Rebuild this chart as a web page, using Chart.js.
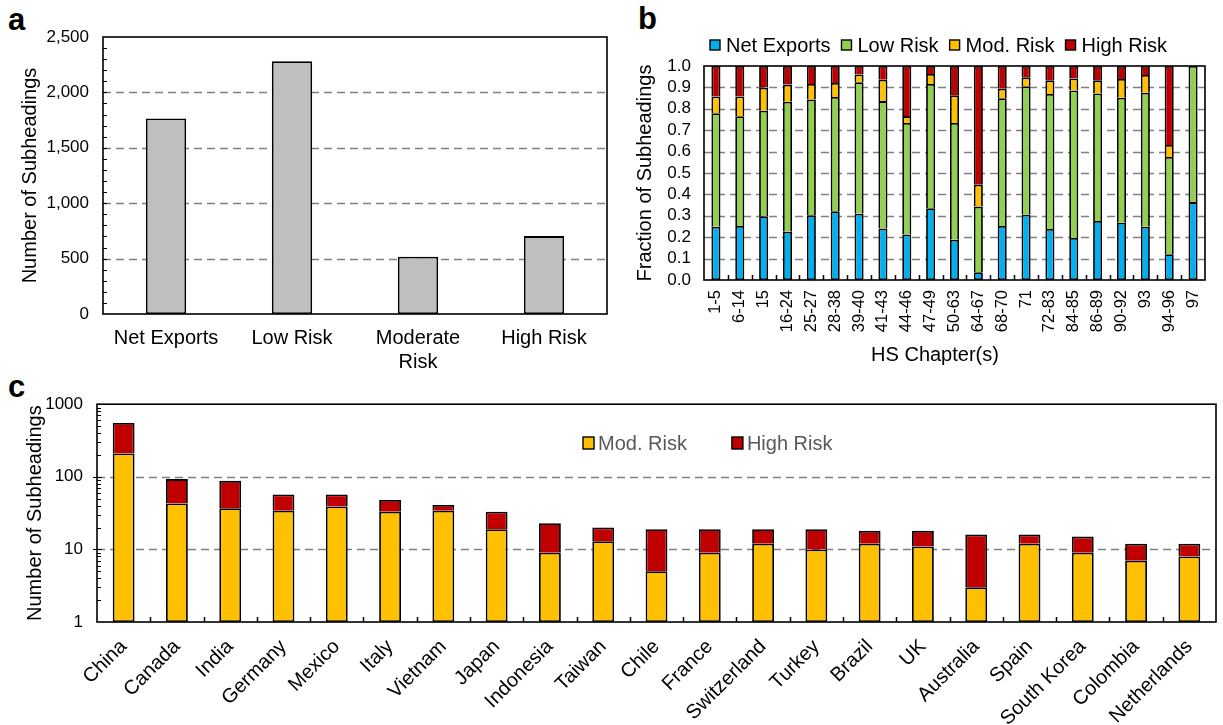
<!DOCTYPE html>
<html><head><meta charset="utf-8">
<script src="https://cdn.jsdelivr.net/npm/chart.js@4.4.1/dist/chart.umd.min.js"></script>
<style>
html,body{margin:0;padding:0;background:#fff}
body{width:1223px;height:725px;overflow:hidden;position:relative;font-family:"Liberation Sans",Arial,sans-serif}
canvas{position:absolute;display:block}
.lbl{position:absolute;font-weight:bold;font-size:31px;line-height:1;color:#000;font-family:"Liberation Sans",Arial,sans-serif}
</style></head><body>
<div class="lbl" style="left:8px;top:4px">a</div>
<div class="lbl" style="left:638px;top:3px">b</div>
<div class="lbl" style="left:8px;top:371px">c</div>
<canvas id="ca" width="620" height="385" style="left:0;top:0"></canvas>
<canvas id="cb" width="603" height="385" style="left:620px;top:0"></canvas>
<canvas id="cc" width="1223" height="345" style="left:0;top:380px"></canvas>
<script>
// ---------- Panel a data ----------
const aCategories = ['Net Exports', 'Low Risk', ['Moderate', 'Risk'], 'High Risk'];
const aValues = [1764, 2281, 517, 703];
const aTicks = [0, 500, 1000, 1500, 2000, 2500];

// ---------- Panel b data (fractions per segment) ----------
const bChapters = ['1-5','6-14','15','16-24','25-27','28-38','39-40','41-43','44-46','47-49','50-63','64-67','68-70','71','72-83','84-85','86-89','90-92','93','94-96','97'];
const bNetExports = [0.249,0.252,0.298,0.226,0.302,0.321,0.310,0.241,0.213,0.335,0.188,0.036,0.252,0.305,0.238,0.196,0.276,0.268,0.249,0.120,0.364];
const bLowRisk    = [0.530,0.513,0.493,0.607,0.542,0.534,0.614,0.595,0.521,0.581,0.546,0.307,0.597,0.600,0.631,0.690,0.596,0.584,0.626,0.455,0.636];
const bModRisk    = [0.079,0.093,0.108,0.080,0.072,0.066,0.036,0.100,0.032,0.047,0.129,0.102,0.045,0.042,0.064,0.056,0.061,0.087,0.083,0.056,0.000];
const bHighRisk   = [0.142,0.142,0.101,0.087,0.084,0.079,0.040,0.064,0.234,0.037,0.137,0.555,0.106,0.053,0.067,0.058,0.067,0.061,0.042,0.369,0.000];
const bTicks = [0,0.1,0.2,0.3,0.4,0.5,0.6,0.7,0.8,0.9,1.0];

// ---------- Panel c data ----------
const cCountries = ['China','Canada','India','Germany','Mexico','Italy','Vietnam','Japan','Indonesia','Taiwan','Chile','France','Switzerland','Turkey','Brazil','UK','Australia','Spain','South Korea','Colombia','Netherlands'];
const cModRisk  = [210,43,37,34,39,33,34,19,9,13,5,9,12,10,12,11,3,12,9,7,8];
const cHighRisk = [340,50,51,23,18,15,7,14,14,7,14,10,7,9,6,7,13,4,6,5,4];
const cTicks = [1,10,100,1000];

// ---------- styling ----------
const FONT = '"Liberation Sans", Arial, sans-serif';
Chart.defaults.font.family = FONT;
Chart.defaults.color = '#000';
Chart.defaults.animation = false;
const C_BLUE = '#00b0f0', C_GREEN = '#92d050', C_YEL = '#ffc000', C_RED = '#c00000', C_GRAY = '#bfbfbf';

function deco(cfg) {
  return {
    id: 'deco',
    beforeDatasetsDraw(chart) {
      const {ctx, chartArea: ca} = chart;
      const ys = chart.scales.y;
      ctx.save();
      ctx.strokeStyle = '#808080'; ctx.lineWidth = 1.4; ctx.setLineDash([8, 5]);
      cfg.grid.forEach(v => {
        const py = Math.round(ys.getPixelForValue(v)) + 0.5;
        ctx.beginPath(); ctx.moveTo(ca.left, py); ctx.lineTo(ca.right, py); ctx.stroke();
      });
      ctx.restore();
    },
    afterDatasetsDraw(chart) {
      const {ctx, chartArea: ca} = chart;
      const xs = chart.scales.x, ys = chart.scales.y;
      ctx.save();
      ctx.setLineDash([]);
      ctx.strokeStyle = '#000';
      ctx.lineWidth = 1;
      (cfg.yMinor || []).forEach(v => {
        const py = Math.round(ys.getPixelForValue(v)) + 0.5;
        ctx.beginPath(); ctx.moveTo(ca.left, py); ctx.lineTo(ca.left + 4, py); ctx.stroke();
      });
      (cfg.yMajor || []).forEach(v => {
        const py = Math.round(ys.getPixelForValue(v)) + 0.5;
        ctx.beginPath(); ctx.moveTo(ca.left - 4, py); ctx.lineTo(ca.left + 5, py); ctx.stroke();
      });
      if (cfg.xTicks) {
        const n = chart.data.labels.length;
        ctx.lineWidth = 1.5;
        for (let i = 1; i < n; i++) {
          const px = Math.round((xs.getPixelForValue(i - 1) + xs.getPixelForValue(i)) / 2) + 0.5;
          ctx.beginPath(); ctx.moveTo(px, ca.bottom); ctx.lineTo(px, ca.bottom - 5); ctx.stroke();
        }
      }
      ctx.lineWidth = 1.6;
      ctx.strokeRect(ca.left, ca.top, ca.right - ca.left, ca.bottom - ca.top);
      if (cfg.legend) {
        const L = cfg.legend;
        ctx.font = L.size + 'px ' + FONT;
        ctx.textBaseline = 'middle';
        ctx.textAlign = 'left';
        let x = L.x;
        chart.data.datasets.forEach(ds => {
          ctx.fillStyle = ds.backgroundColor;
          ctx.fillRect(x, L.y - L.bh / 2, L.bw, L.bh);
          ctx.lineWidth = 1.4; ctx.strokeStyle = '#000';
          ctx.strokeRect(x, L.y - L.bh / 2, L.bw, L.bh);
          ctx.fillStyle = L.color;
          const tx = x + L.bw + L.gapText;
          ctx.fillText(ds.label, tx, L.y + 1);
          x = tx + ctx.measureText(ds.label).width + L.gapItem;
        });
      }
      if (cfg.xTitle) {
        const T = cfg.xTitle;
        ctx.font = T.size + 'px ' + FONT;
        ctx.fillStyle = '#000';
        ctx.textAlign = 'center'; ctx.textBaseline = 'middle';
        ctx.fillText(T.text, T.x, T.y);
      }
      ctx.restore();
    }
  };
}

const barBase = { borderColor: '#000', borderWidth: 1.8, borderSkipped: false, categoryPercentage: 1 };
const barUpper = { borderColor: '#000', borderWidth: 1.8, borderSkipped: 'bottom', categoryPercentage: 1 };

// ---------- Chart a ----------
new Chart(document.getElementById('ca'), {
  type: 'bar',
  data: { labels: aCategories, datasets: [Object.assign({ label: 'Subheadings', data: aValues, backgroundColor: C_GRAY, barPercentage: 0.32 }, barBase)] },
  options: {
    responsive: false, devicePixelRatio: 1,
    layout: { padding: { top: 37, right: 13, left: 0, bottom: 0 } },
    plugins: { legend: { display: false }, tooltip: { enabled: false } },
    scales: {
      x: {
        grid: { display: false, drawTicks: false }, border: { display: false },
        ticks: { font: { size: 20 }, padding: 12, maxRotation: 0, minRotation: 0, autoSkip: false, color: '#000' },
        afterFit: s => { s.height = 71; }
      },
      y: {
        min: 0, max: 2500,
        grid: { display: false, drawTicks: false }, border: { display: false },
        afterBuildTicks: s => { s.ticks = aTicks.map(v => ({ value: v })); },
        ticks: { font: { size: 17 }, padding: 14, autoSkip: false, color: '#000', callback: v => v.toLocaleString('en-US') },
        title: { display: true, text: 'Number of Subheadings', font: { size: 20 }, color: '#000', padding: { top: 18, bottom: 0 } },
        afterFit: s => { s.width = 103; }
      }
    }
  },
  plugins: [deco({ grid: [500, 1000, 1500, 2000], yMinor: Array.from({ length: 24 }, (_, i) => (i + 1) * 100) })]
});

// ---------- Chart b ----------
new Chart(document.getElementById('cb'), {
  type: 'bar',
  data: {
    labels: bChapters,
    datasets: [
      Object.assign({ label: 'Net Exports', data: bNetExports, backgroundColor: C_BLUE, barPercentage: 0.38 }, barBase),
      Object.assign({ label: 'Low Risk', data: bLowRisk, backgroundColor: C_GREEN, barPercentage: 0.38 }, barUpper),
      Object.assign({ label: 'Mod. Risk', data: bModRisk, backgroundColor: C_YEL, barPercentage: 0.38 }, barUpper),
      Object.assign({ label: 'High Risk', data: bHighRisk, backgroundColor: C_RED, barPercentage: 0.38 }, barUpper)
    ]
  },
  options: {
    responsive: false, devicePixelRatio: 1,
    layout: { padding: { top: 66, right: 6, left: 0, bottom: 0 } },
    plugins: { legend: { display: false }, tooltip: { enabled: false } },
    scales: {
      x: {
        stacked: true,
        grid: { display: false, drawTicks: false }, border: { display: false },
        ticks: { font: { size: 16.5 }, padding: 10, maxRotation: 90, minRotation: 90, autoSkip: false, color: '#000' },
        afterFit: s => { s.height = 105; }
      },
      y: {
        stacked: true, min: 0, max: 1,
        grid: { display: false, drawTicks: false }, border: { display: false },
        afterBuildTicks: s => { s.ticks = bTicks.map(v => ({ value: v })); },
        ticks: { font: { size: 17 }, padding: 13, autoSkip: false, color: '#000', callback: v => Number(v).toFixed(1) },
        title: { display: true, text: 'Fraction of Subheadings', font: { size: 20 }, color: '#000', padding: { top: 13, bottom: 0 } },
        afterFit: s => { s.width = 84; }
      }
    }
  },
  plugins: [deco({
    grid: [0.1, 0.2, 0.3, 0.4, 0.5, 0.6, 0.7, 0.8, 0.9], xTicks: true,
    legend: { x: 90, y: 45, bw: 10, bh: 10, gapText: 6, gapItem: 11, size: 20, color: '#000' },
    xTitle: { text: 'HS Chapter(s)', x: 315, y: 355, size: 20 }
  })]
});

// ---------- Chart c ----------
new Chart(document.getElementById('cc'), {
  type: 'bar',
  data: {
    labels: cCountries,
    datasets: [
      Object.assign({ label: 'Mod. Risk', data: cModRisk, backgroundColor: C_YEL, barPercentage: 0.41 }, barBase),
      Object.assign({ label: 'High Risk', data: cHighRisk, backgroundColor: C_RED, barPercentage: 0.41 }, barUpper)
    ]
  },
  options: {
    responsive: false, devicePixelRatio: 1,
    layout: { padding: { top: 22, right: 7, left: 0, bottom: 0 } },
    plugins: { legend: { display: false }, tooltip: { enabled: false } },
    scales: {
      x: {
        stacked: true,
        grid: { display: false, drawTicks: false }, border: { display: false },
        ticks: { font: { size: 20 }, padding: 13, maxRotation: 45, minRotation: 45, autoSkip: false, color: '#000' },
        afterFit: s => { s.height = 103; }
      },
      y: {
        type: 'logarithmic', stacked: true, min: 1, max: 1000,
        grid: { display: false, drawTicks: false }, border: { display: false },
        afterBuildTicks: s => { s.ticks = cTicks.map(v => ({ value: v })); },
        ticks: { font: { size: 17 }, padding: 14, autoSkip: false, color: '#000', callback: v => String(v) },
        title: { display: true, text: 'Number of Subheadings', font: { size: 20 }, color: '#000', padding: { top: 23, bottom: 0 } },
        afterFit: s => { s.width = 97; }
      }
    }
  },
  plugins: [deco({
    grid: [10, 100], xTicks: true,
    yMajor: [10, 100],
    yMinor: [2,3,4,5,6,7,8,9,20,30,40,50,60,70,80,90,200,300,400,500,600,700,800,900],
    legend: { x: 583, y: 63, bw: 11, bh: 12, gapText: 4, gapItem: 45, size: 20, color: '#595959' }
  })]
});
</script>
</body></html>
